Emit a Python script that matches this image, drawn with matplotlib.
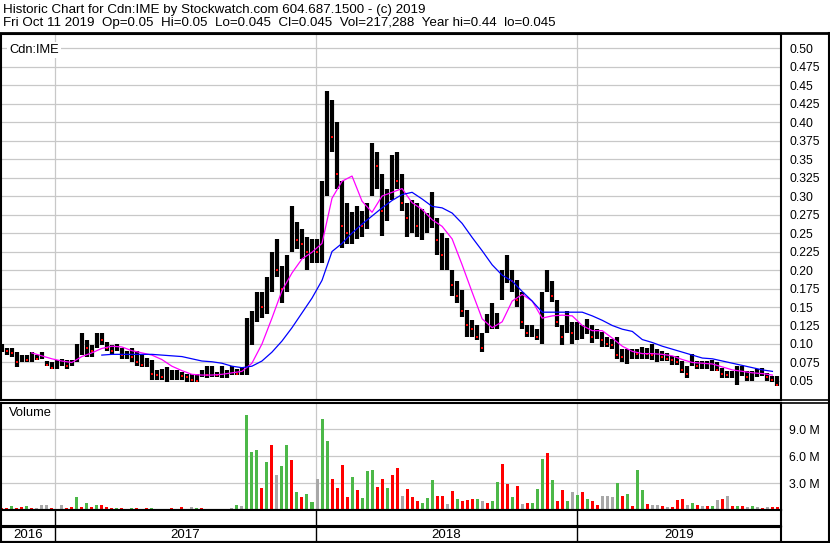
import numpy as np
import pandas as pd
import matplotlib
matplotlib.use("Agg")
import matplotlib.pyplot as plt
import matplotlib.dates as mdates
from matplotlib.lines import Line2D
from matplotlib.transforms import blended_transform_factory

plt.rcParams["font.family"] = ["Liberation Sans", "DejaVu Sans"]

W, H = 830, 543

HEADER_1 = "Historic Chart for Cdn:IME by Stockwatch.com 604.687.1500 - (c) 2019"
HEADER_2 = ("Fri Oct 11 2019  Op=0.05  Hi=0.05  Lo=0.045  Cl=0.045  "
            "Vol=217,288  Year hi=0.44  lo=0.045")
SYMBOL = "Cdn:IME"

# one bar per week (mid-week date), Oct 2016 -> Oct 11 2019
WEEKS = pd.date_range("2016-10-19", "2019-10-09", freq="W-WED")

HIGH = [
    # 2016
    0.100, 0.095, 0.095, 0.089, 0.085, 0.085, 0.089, 0.085, 0.089, 0.077, 0.075,
    # 2017
    0.078, 0.080, 0.079, 0.078, 0.100, 0.115, 0.105, 0.098, 0.115, 0.115,
    0.103, 0.098, 0.100, 0.095, 0.090, 0.094, 0.090, 0.085, 0.081, 0.079,
    0.065, 0.066, 0.069, 0.065, 0.065, 0.062, 0.060, 0.060, 0.060, 0.065,
    0.070, 0.070, 0.062, 0.070, 0.065, 0.070, 0.066, 0.069, 0.135, 0.145,
    0.170, 0.170, 0.190, 0.225, 0.242, 0.206, 0.220, 0.287, 0.265, 0.255,
    0.245, 0.242,
    # 2018
    0.242, 0.320, 0.442, 0.430, 0.400, 0.320, 0.290, 0.278, 0.287, 0.280,
    0.290, 0.372, 0.360, 0.330, 0.310, 0.355, 0.360, 0.330, 0.290, 0.295,
    0.290, 0.282, 0.277, 0.305, 0.270, 0.250, 0.243, 0.200, 0.185, 0.173,
    0.146, 0.133, 0.125, 0.115, 0.140, 0.155, 0.142, 0.200, 0.220, 0.200,
    0.186, 0.170, 0.125, 0.125, 0.120, 0.170, 0.200, 0.185, 0.160, 0.125,
    0.145, 0.130,
    # 2019
    0.130, 0.125, 0.134, 0.125, 0.120, 0.116, 0.110, 0.107, 0.110, 0.093,
    0.093, 0.093, 0.093, 0.096, 0.095, 0.100, 0.093, 0.090, 0.088, 0.084,
    0.084, 0.077, 0.070, 0.086, 0.077, 0.077, 0.077, 0.079, 0.075, 0.068,
    0.063, 0.063, 0.070, 0.070, 0.063, 0.063, 0.066, 0.068, 0.061, 0.057,
    0.057,
]
LOW = [
    0.089, 0.085, 0.083, 0.069, 0.076, 0.075, 0.075, 0.078, 0.080, 0.070, 0.066,
    0.066, 0.070, 0.066, 0.070, 0.075, 0.085, 0.083, 0.082, 0.095, 0.098,
    0.090, 0.087, 0.090, 0.080, 0.080, 0.076, 0.070, 0.069, 0.069, 0.051,
    0.051, 0.051, 0.049, 0.052, 0.051, 0.052, 0.049, 0.048, 0.048, 0.056,
    0.054, 0.055, 0.056, 0.054, 0.054, 0.058, 0.058, 0.058, 0.058, 0.099,
    0.130, 0.135, 0.140, 0.170, 0.190, 0.156, 0.170, 0.225, 0.228, 0.215,
    0.200, 0.210,
    0.210, 0.210, 0.300, 0.360, 0.310, 0.230, 0.235, 0.235, 0.242, 0.245,
    0.255, 0.300, 0.310, 0.246, 0.266, 0.295, 0.310, 0.280, 0.245, 0.250,
    0.245, 0.241, 0.250, 0.257, 0.220, 0.200, 0.200, 0.165, 0.155, 0.137,
    0.110, 0.110, 0.105, 0.089, 0.115, 0.120, 0.120, 0.160, 0.182, 0.170,
    0.150, 0.120, 0.109, 0.109, 0.105, 0.100, 0.170, 0.157, 0.123, 0.098,
    0.115, 0.100,
    0.105, 0.107, 0.114, 0.102, 0.107, 0.096, 0.096, 0.093, 0.080, 0.075,
    0.073, 0.080, 0.080, 0.080, 0.080, 0.079, 0.075, 0.077, 0.077, 0.072,
    0.072, 0.061, 0.054, 0.070, 0.066, 0.066, 0.066, 0.063, 0.063, 0.054,
    0.054, 0.054, 0.044, 0.057, 0.050, 0.050, 0.055, 0.057, 0.050, 0.048,
    0.043,
]
CLOSE = [
    0.092, 0.090, 0.088, 0.075, 0.080, 0.078, 0.083, 0.080, 0.083, 0.072, 0.068,
    0.070, 0.075, 0.070, 0.075, 0.095, 0.100, 0.095, 0.090, 0.110, 0.105,
    0.095, 0.090, 0.093, 0.085, 0.085, 0.083, 0.075, 0.072, 0.075, 0.060,
    0.058, 0.055, 0.055, 0.056, 0.058, 0.057, 0.055, 0.052, 0.050, 0.060,
    0.058, 0.060, 0.058, 0.058, 0.058, 0.062, 0.060, 0.062, 0.120, 0.135,
    0.155, 0.150, 0.180, 0.210, 0.200, 0.175, 0.210, 0.260, 0.240, 0.235,
    0.225, 0.230,
    0.225, 0.300, 0.400, 0.380, 0.330, 0.260, 0.250, 0.260, 0.270, 0.260,
    0.280, 0.350, 0.340, 0.280, 0.290, 0.330, 0.320, 0.290, 0.270, 0.280,
    0.260, 0.265, 0.270, 0.280, 0.240, 0.220, 0.230, 0.180, 0.165, 0.145,
    0.125, 0.120, 0.110, 0.095, 0.125, 0.130, 0.130, 0.185, 0.200, 0.185,
    0.160, 0.130, 0.115, 0.115, 0.110, 0.150, 0.185, 0.165, 0.130, 0.110,
    0.125, 0.115,
    0.115, 0.115, 0.120, 0.110, 0.112, 0.105, 0.100, 0.098, 0.085, 0.082,
    0.085, 0.088, 0.087, 0.088, 0.087, 0.085, 0.085, 0.082, 0.080, 0.078,
    0.075, 0.065, 0.060, 0.075, 0.070, 0.070, 0.070, 0.070, 0.065, 0.060,
    0.058, 0.058, 0.060, 0.065, 0.055, 0.055, 0.060, 0.060, 0.055, 0.052,
    0.045,
]

# moving averages read every second week
MA_FAST = [  # magenta, from week 6
    0.088, 0.084, 0.080, 0.077, 0.075, 0.083, 0.088, 0.094, 0.097, 0.096,
    0.091, 0.088, 0.085, 0.079, 0.070, 0.064, 0.059, 0.058, 0.058, 0.059,
    0.061, 0.063, 0.074, 0.100, 0.135, 0.172, 0.196, 0.215, 0.224, 0.236,
    0.297, 0.320, 0.327, 0.293, 0.278, 0.300, 0.305, 0.310, 0.291, 0.282,
    0.268, 0.259, 0.242, 0.207, 0.170, 0.134, 0.122, 0.130, 0.158, 0.167,
    0.158, 0.135, 0.138, 0.139, 0.138, 0.125, 0.118, 0.118, 0.108, 0.097,
    0.090, 0.087, 0.087, 0.086, 0.084, 0.079, 0.075, 0.074, 0.073, 0.069,
    0.065, 0.063, 0.061, 0.060, 0.058,
]
MA_SLOW = [  # blue, from week 20
    0.085, 0.086, 0.086, 0.086, 0.086, 0.086, 0.085, 0.084, 0.083, 0.080,
    0.077, 0.076, 0.074, 0.070, 0.068, 0.070, 0.077, 0.089, 0.104, 0.122,
    0.142, 0.162, 0.186, 0.225, 0.236, 0.250, 0.262, 0.273, 0.284, 0.294,
    0.302, 0.305, 0.296, 0.286, 0.284, 0.277, 0.263, 0.244, 0.226, 0.207,
    0.193, 0.185, 0.171, 0.158, 0.143, 0.143, 0.143, 0.143, 0.143, 0.138,
    0.132, 0.125, 0.120, 0.117, 0.106, 0.102, 0.097, 0.093, 0.089, 0.085,
    0.081, 0.080, 0.077, 0.074, 0.071, 0.068, 0.065, 0.063,
]

# weekly peak volume, millions of shares
VOLUME = [
    0.2, 0.2, 0.4, 0.2, 0.3, 0.45, 0.2, 0.2, 0.6, 0.55, 0.2,
    0.15, 0.55, 0.2, 0.3, 1.5, 0.3, 0.8, 0.3, 0.6, 0.6,
    0.3, 0.2, 0.2, 0.2, 0.15, 0.2, 0.2, 0.15, 0.2, 0.2,
    0.15, 0.15, 0.15, 0.2, 0.15, 0.35, 0.15, 0.35, 0.2, 0.2,
    0.15, 0.15, 0.15, 0.15, 0.15, 0.2, 0.6, 0.4, 10.6, 6.4,
    6.7, 2.5, 5.3, 7.2, 3.9, 4.9, 7.2, 5.6, 2.0, 1.5,
    1.8, 0.9,
    3.5, 10.1, 7.7, 3.4, 2.4, 5.0, 1.5, 3.7, 2.2, 1.3,
    4.3, 4.4, 2.6, 3.5, 2.4, 3.9, 4.7, 1.6, 2.3, 1.4,
    1.0, 0.8, 1.3, 3.3, 1.6, 1.6, 0.7, 2.1, 1.2, 1.0,
    1.1, 1.2, 1.2, 1.0, 0.8, 1.0, 3.1, 5.1, 2.9, 1.4,
    2.7, 0.7, 0.8, 0.8, 2.3, 5.7, 6.3, 3.3, 1.0, 2.2,
    1.0, 2.0,
    1.7, 2.0, 1.2, 1.0, 0.6, 1.6, 1.6, 1.4, 3.0, 1.6,
    1.8, 0.5, 4.4, 2.2, 0.7, 0.6, 0.6, 0.4, 0.3, 0.3,
    1.1, 1.2, 0.6, 0.8, 0.6, 0.4, 0.4, 0.5, 1.15, 1.2,
    1.6, 0.4, 0.5, 0.4, 0.3, 0.4, 0.3, 0.2, 0.3, 0.3,
    0.3,
]
# u = up, d = down, n = unchanged
VOL_DIR = ("dduddudnnnd"
           "dnddududud" "dduddudddu" "ddudddunud" "uddudnunuu" "ududnuududuu"
           "nuuddddudu" "uudduddndd" "duuuddndud" "ddunduuddu" "dnduuududd" "un"
           "ududdnnnud" "uduudnndnd" "ddnudndund" "ndudnundnd" "d")

PRICE_TICKS = np.arange(0.05, 0.5001, 0.025)
VOL_TICKS = [3, 6, 9]
YEAR_STARTS = pd.to_datetime(["2017-01-01", "2018-01-01", "2019-01-01"])
YEAR_LABELS = ["2016", "2017", "2018", "2019"]
XLIM = pd.to_datetime(["2016-10-18", "2019-10-14"])

GRID = "#c8c8c8"
COLORS = {"u": "#4cb848", "d": "#ff0000", "n": "#a8a8a8"}


def box(x0, y0, x1, y1):
    """pixel box (top-left origin) -> figure fraction rect"""
    return [x0 / W, 1 - y1 / H, (x1 - x0) / W, (y1 - y0) / H]


def style(ax):
    for s in ax.spines.values():
        s.set_color("black")
        s.set_linewidth(1.5)
    ax.tick_params(axis="x", bottom=False, labelbottom=False)


fig = plt.figure(figsize=(W / 100, H / 100), dpi=100)
fig.patch.set_facecolor("white")

ax_p = fig.add_axes(box(1, 34, 781, 400))
ax_v = fig.add_axes(box(1, 403, 781, 510))
ax_gap = fig.add_axes(box(1, 510, 781, 526))
ax_yr = fig.add_axes(box(1, 527, 781, 542))
axes = [ax_p, ax_v, ax_gap, ax_yr]
for ax in axes:
    style(ax)
    ax.set_xlim(XLIM[0], XLIM[1])

# ── price panel ──
for d in YEAR_STARTS:
    ax_p.axvline(d, color=GRID, lw=0.9, zorder=0)
    ax_v.axvline(d, color=GRID, lw=0.9, zorder=0)
for t in PRICE_TICKS:
    ax_p.axhline(t, color=GRID, lw=0.9, zorder=0)

ax_p.vlines(WEEKS, LOW, HIGH, color="black", lw=3.0, zorder=2)
close = np.array(CLOSE)
down = np.r_[False, close[1:] < close[:-1]]
ax_p.plot(WEEKS[down], close[down], "s", color="red", ms=1.6, mew=0, zorder=3)
ax_p.plot(WEEKS[6::2], MA_FAST, color="#ff00ff", lw=0.9, zorder=4)
ax_p.plot(WEEKS[20::2], MA_SLOW, color="#0000ff", lw=0.9, zorder=4)

ax_p.set_ylim(0.0243, 0.519)
ax_p.yaxis.tick_right()
ax_p.set_yticks(PRICE_TICKS)
ax_p.set_yticklabels([f"{t:.2f}" if round(t * 1000) % 50 == 0 else f"{t:.3f}"
                      for t in PRICE_TICKS])
ax_p.tick_params(axis="y", length=0, pad=6, labelsize=8.8)

# ── volume panel ──
for t in VOL_TICKS:
    ax_v.axhline(t, color=GRID, lw=0.9, zorder=0)
ax_v.bar(WEEKS, VOLUME, width=4.2, color=[COLORS[c] for c in VOL_DIR], lw=0, zorder=2)
ax_v.set_ylim(0, 11.9)
ax_v.yaxis.tick_right()
ax_v.set_yticks(VOL_TICKS)
ax_v.set_yticklabels([f"{t:.1f} M" for t in VOL_TICKS])
ax_v.tick_params(axis="y", length=0, pad=6, labelsize=8.8)

# ── date bands ──
edges = mdates.date2num(np.r_[XLIM[:1], YEAR_STARTS, XLIM[1:]])
for ax in (ax_gap, ax_yr):
    ax.set_yticks([])
    for d in YEAR_STARTS:
        ax.axvline(d, color="black", lw=1.0)
tr = blended_transform_factory(ax_yr.transData, ax_yr.transAxes)
for lbl, a, b in zip(YEAR_LABELS, edges[:-1], edges[1:]):
    ax_yr.text((a + b) / 2, 0.45, lbl, transform=tr, ha="center", va="center",
               fontsize=9.5)

# ── frame and texts ──
def hline(y, x0, x1, lw):
    fig.add_artist(Line2D([x0 / W, x1 / W], [1 - y / H] * 2, color="black", lw=lw))


def vline(x, y0, y1, lw):
    fig.add_artist(Line2D([x / W] * 2, [1 - y0 / H, 1 - y1 / H], color="black", lw=lw))


hline(33, 0, 830, 2.0)
hline(400, 781, 830, 1.2)
hline(403, 781, 830, 1.2)
hline(542, 0, 830, 1.5)
vline(829, 33, 543, 1.5)

fig.text(3 / W, 1 - 10 / H, HEADER_1, fontsize=9.6, va="center")
fig.text(3 / W, 1 - 23 / H, HEADER_2, fontsize=9.6, va="center")
fig.text(9 / W, 1 - 50 / H, SYMBOL, fontsize=9.3, va="center",
         bbox=dict(fc="white", ec="none", pad=1.5))
fig.text(9 / W, 1 - 413 / H, "Volume", fontsize=9.3, va="center")

fig.savefig("out.png", dpi=100, facecolor="white")
plt.close(fig)
